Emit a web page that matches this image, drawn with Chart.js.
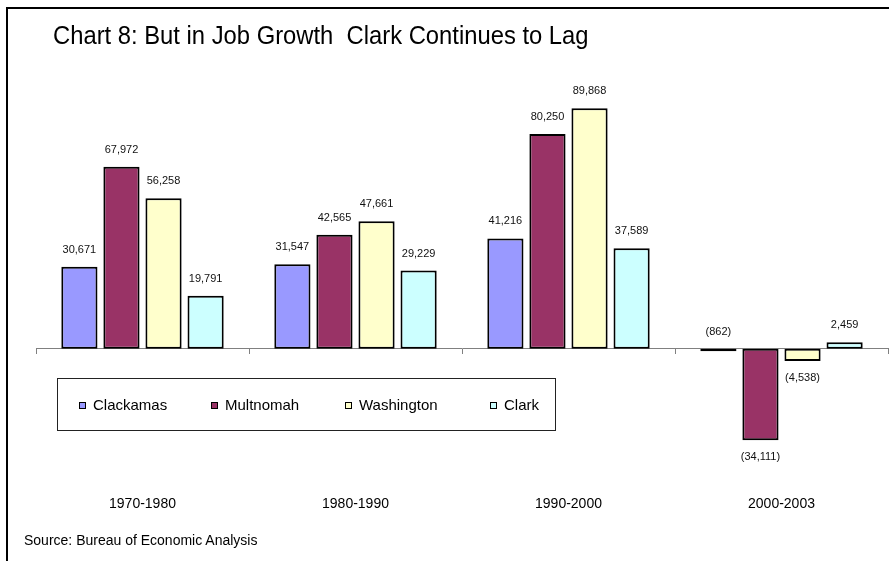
<!DOCTYPE html>
<html>
<head>
<meta charset="utf-8">
<script src="https://cdn.jsdelivr.net/npm/chart.js@4/dist/chart.umd.min.js"></script>
<style>
  html, body { margin: 0; padding: 0; background: #fff; }
  #wrap { position: relative; width: 889px; height: 561px; overflow: hidden;
          font-family: "Liberation Sans", Arial, sans-serif; color: #000; }
  #frame { position: absolute; left: 6px; top: 7px; width: 1000px; height: 1000px;
           border-left: 2px solid #000; border-top: 2px solid #000; }
  #title { position: absolute; left: 53px; top: 22px; font-size: 26px; line-height: 26px;
           white-space: pre; transform: scaleX(0.915); transform-origin: 0 0; }
  #source { position: absolute; left: 24px; top: 533px; font-size: 14px; line-height: 14px; }
  #legend { position: absolute; left: 57px; top: 378px; width: 499px; height: 53px;
            border: 1px solid #222; box-sizing: border-box; }
  .item { position: absolute; top: 18px; font-size: 15px; line-height: 15px; white-space: nowrap; }
  .swatch { display: inline-block; width: 5px; height: 5px; border: 1.5px solid #000;
            margin-right: 7px; vertical-align: 1px; }
  canvas { position: absolute; left: 0; top: 0; }
</style>
</head>
<body>
<div id="wrap">
  <div id="frame"></div>
  <canvas id="chart" width="889" height="561"></canvas>
  <div id="title">Chart 8: But in Job Growth  Clark Continues to Lag</div>
  <div id="legend"></div>
  <div id="source">Source: Bureau of Economic Analysis</div>
</div>
<script>
// ── DATA ──────────────────────────────────────────────
const periods    = ["1970-1980", "1980-1990", "1990-2000", "2000-2003"];
const counties   = ["Clackamas", "Multnomah", "Washington", "Clark"];
const clackamas  = [30671, 31547, 41216, -862];
const multnomah  = [67972, 42565, 80250, -34111];
const washington = [56258, 47661, 89868, -4538];
const clark      = [19791, 29229, 37589, 2459];
const colors     = ["#9999ff", "#993366", "#ffffcc", "#ccffff"];

const seriesValues = [clackamas, multnomah, washington, clark];

// ── LEGEND (html box inside the plot) ────────────────
const legendX = [21, 153, 287, 432];
const legendEl = document.getElementById("legend");
counties.forEach((name, i) => {
  const it = document.createElement("div");
  it.className = "item";
  it.style.left = legendX[i] + "px";
  it.innerHTML = `<span class="swatch" style="background:${colors[i]}"></span>${name}`;
  legendEl.appendChild(it);
});

// ── HELPERS ──────────────────────────────────────────
function fmt(v) {
  const s = Math.abs(v).toLocaleString("en-US");
  return v < 0 ? "(" + s + ")" : s;
}

const valueLabels = {
  id: "valueLabels",
  afterDatasetsDraw(chart) {
    const ctx = chart.ctx;
    ctx.save();
    ctx.font = '11px "Liberation Sans", Arial, sans-serif';
    ctx.fillStyle = "#111";
    ctx.textAlign = "center";
    ctx.textBaseline = "middle";
    chart.data.datasets.forEach((ds, i) => {
      chart.getDatasetMeta(i).data.forEach((bar, j) => {
        const v = ds.data[j];
        const below = v < 0 && Math.abs(bar.y - bar.base) > 6;
        const y = below ? Math.max(bar.y, bar.base) + 17 : Math.min(bar.y, bar.base) - 17;
        ctx.fillText(fmt(v), bar.x, y);
      });
    });
    ctx.restore();
  },
};

const categoryLabels = {
  id: "categoryLabels",
  afterDraw(chart) {
    const ctx = chart.ctx;
    const x = chart.scales.x;
    ctx.save();
    ctx.font = '14px "Liberation Sans", Arial, sans-serif';
    ctx.fillStyle = "#000";
    ctx.textAlign = "center";
    ctx.textBaseline = "middle";
    chart.data.labels.forEach((lab, i) => ctx.fillText(lab, x.getPixelForValue(i), 504));
    ctx.restore();
  },
};

// ── CHART ────────────────────────────────────────────
new Chart(document.getElementById("chart").getContext("2d"), {
  type: "bar",
  data: {
    labels: periods,
    datasets: counties.map((name, i) => ({
      label: name,
      data: seriesValues[i],
      backgroundColor: colors[i],
      borderColor: "#000",
      borderWidth: 2,
      borderSkipped: false,
      categoryPercentage: 0.79,
      barPercentage: 0.86,
    })),
  },
  options: {
    responsive: false,
    animation: false,
    devicePixelRatio: 1,
    layout: { padding: { left: 36, right: 1, top: 81, bottom: 105 } },
    plugins: { legend: { display: false }, tooltip: { enabled: false } },
    scales: {
      x: {
        position: { y: 0 },
        grid: { display: true, drawOnChartArea: false, drawTicks: true, tickLength: 5, color: "#808080", offset: true },
        border: { display: true, color: "#808080", width: 1 },
        ticks: { display: false },
      },
      y: { display: false, min: -40000, max: 100000 },
    },
  },
  plugins: [valueLabels, categoryLabels],
});
</script>
</body>
</html>
